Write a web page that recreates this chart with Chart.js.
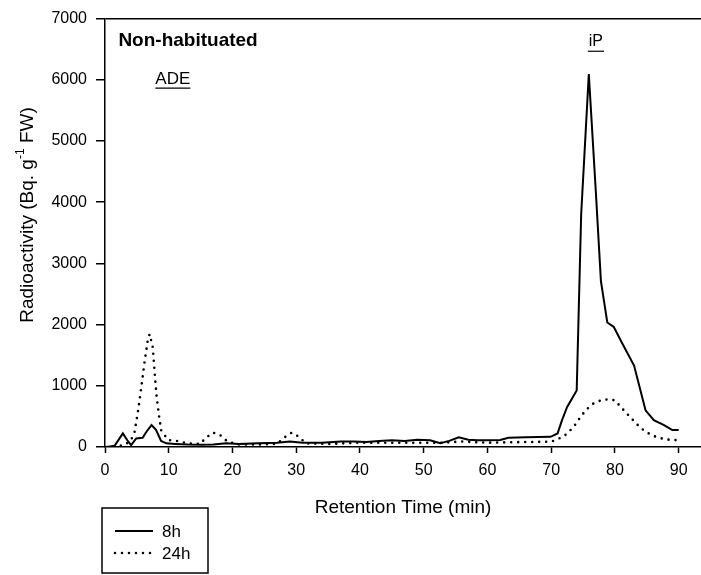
<!DOCTYPE html>
<html>
<head>
<meta charset="utf-8">
<script src="https://cdn.jsdelivr.net/npm/chart.js@4.4.1/dist/chart.umd.min.js"></script>
<style>
  html, body { margin: 0; padding: 0; background: #fff; }
</style>
</head>
<body>
<canvas id="chart" width="701" height="575"></canvas>
<script>
// data
let time8h = [0.3, 1.5, 2.8, 3.5, 4.1, 4.9, 5.9, 6.5, 7.3, 8.0, 8.8, 9.6, 11, 13, 15, 17, 19, 21, 24, 27, 29, 31, 34, 37, 39, 41, 43, 45, 47, 49, 51, 52.6, 54, 55.5, 57, 58.5, 60, 62, 63.3, 66, 69.9, 71, 71.7, 72.5, 74, 74.7, 75.9, 77, 77.8, 78.8, 79.8, 81.2, 83, 84.8, 86.1, 87.7, 89, 90];
let value8h = [0, 20, 222, 110, 30, 140, 150, 250, 357, 280, 100, 60, 50, 40, 35, 40, 60, 50, 60, 70, 90, 70, 70, 90, 90, 80, 100, 110, 100, 120, 110, 60, 100, 157, 120, 110, 110, 113, 150, 160, 167, 222, 438, 654, 925, 3800, 6093, 4172, 2711, 2034, 1964, 1683, 1331, 600, 438, 357, 276, 276];

let time24h = [0.3, 3.0, 4.0, 4.6, 5.2, 5.7, 6.2, 6.7, 7.0, 7.5, 7.8, 8.1, 8.5, 8.8, 9.9, 11.2, 13, 15, 15.6, 16.9, 18, 19.2, 21, 24, 27, 28.2, 29.3, 30.4, 31.5, 35, 40, 45, 50, 53, 56, 60, 65, 70, 71.9, 72.8, 73.7, 74.6, 75.5, 76.6, 77.8, 78.9, 80, 81, 82.1, 83.1, 84.1, 85.3, 86.4, 87.7, 88.9, 90];
let value24h = [0, 30, 100, 222, 600, 979, 1385, 1737, 1845, 1628, 1196, 817, 492, 276, 113, 100, 60, 50, 130, 235, 200, 90, 40, 40, 50, 160, 235, 170, 60, 50, 70, 70, 70, 70, 90, 70, 80, 87, 167, 249, 357, 492, 611, 709, 763, 780, 763, 644, 520, 411, 303, 222, 167, 130, 113, 113];

let xTicks = [0, 10, 20, 30, 40, 50, 60, 70, 80, 90];
let yTicks = [0, 1000, 2000, 3000, 4000, 5000, 6000, 7000];
let seriesNames = ["8h", "24h"];

function toPoints(xs, ys) {
    let pts = [];
    for (let i = 0; i < xs.length; i++) {
        pts.push({x: xs[i], y: ys[i]});
    }
    return pts;
}

const FONT = "'Liberation Sans', Arial, sans-serif";

// texts on the plot, the y title (with superscript) and the boxed legend
let extras = {
    id: "extras",
    afterDraw(chart) {
        let ctx = chart.ctx;
        let xs = chart.scales.x, ys = chart.scales.y;
        ctx.save();
        ctx.fillStyle = "#000";
        ctx.strokeStyle = "#000";
        ctx.textBaseline = "middle";

        ctx.font = "bold 19px " + FONT;
        ctx.textAlign = "left";
        ctx.fillText("Non-habituated", xs.getPixelForValue(2.1), ys.getPixelForValue(6640));

        ctx.font = "17px " + FONT;
        let ax = xs.getPixelForValue(7.9), ay = ys.getPixelForValue(6010);
        ctx.fillText("ADE", ax, ay);
        let w = ctx.measureText("ADE").width;
        ctx.lineWidth = 1.2;
        ctx.beginPath(); ctx.moveTo(ax, ay + 9); ctx.lineTo(ax + w, ay + 9); ctx.stroke();

        ctx.font = "16px " + FONT;
        let ix = xs.getPixelForValue(75.9), iy = ys.getPixelForValue(6630);
        ctx.fillText("iP", ix, iy);
        w = ctx.measureText("iP").width;
        ctx.beginPath(); ctx.moveTo(ix - 1, iy + 10); ctx.lineTo(ix + w + 1, iy + 10); ctx.stroke();

        // y title, rotated
        ctx.save();
        ctx.translate(28, 215);
        ctx.rotate(-Math.PI / 2);
        let p1 = "Radioactivity (Bq. g", sup = "-1", p2 = " FW)";
        ctx.font = "19px " + FONT;
        let w1 = ctx.measureText(p1).width, w3 = ctx.measureText(p2).width;
        ctx.font = "12px " + FONT;
        let w2 = ctx.measureText(sup).width;
        let x0 = -(w1 + w2 + w3) / 2;
        ctx.textAlign = "left";
        ctx.font = "19px " + FONT;
        ctx.fillText(p1, x0, 0);
        ctx.font = "12px " + FONT;
        ctx.fillText(sup, x0 + w1, -7);
        ctx.font = "19px " + FONT;
        ctx.fillText(p2, x0 + w1 + w2, 0);
        ctx.restore();

        // legend box
        ctx.lineWidth = 1.5;
        ctx.strokeRect(102, 508, 106, 65);
        ctx.font = "17px " + FONT;
        let rows = [531, 553];
        chart.data.datasets.forEach(function (ds, i) {
            ctx.save();
            ctx.lineWidth = ds.borderWidth;
            ctx.lineCap = ds.borderCapStyle || "butt";
            ctx.setLineDash(ds.borderDash || []);
            ctx.beginPath();
            ctx.moveTo(115, rows[i]);
            ctx.lineTo(153, rows[i]);
            ctx.stroke();
            ctx.restore();
            ctx.fillText(ds.label, 162, rows[i] + 1);
        });
        ctx.restore();
    }
};

let ctx = document.getElementById("chart").getContext("2d");
let chart = new Chart(ctx, {
    type: "line",
    data: {
        datasets: [{
            label: seriesNames[0],
            data: toPoints(time8h, value8h),
            borderColor: "#000",
            borderWidth: 2,
            pointRadius: 0,
            tension: 0
        }, {
            label: seriesNames[1],
            data: toPoints(time24h, value24h),
            borderColor: "#000",
            borderWidth: 2.6,
            borderDash: [0, 7],
            borderCapStyle: "round",
            pointRadius: 0,
            tension: 0
        }]
    },
    options: {
        responsive: false,
        animation: false,
        layout: {padding: {top: 15, right: 0, bottom: 48, left: 0}},
        plugins: {legend: {display: false}, tooltip: {enabled: false}},
        scales: {
            x: {
                type: "linear",
                min: 0,
                max: 93.5,
                afterFit(scale) { scale.height = 80; },
                afterBuildTicks(scale) { scale.ticks = xTicks.map(v => ({value: v})); },
                ticks: {color: "#000", font: {family: FONT, size: 16}, padding: 8,
                        callback: v => String(v)},
                grid: {drawOnChartArea: false, tickLength: 6, tickColor: "#000", tickWidth: 1.5},
                border: {color: "#000", width: 1.5},
                title: {display: true, text: "Retention Time (min)", color: "#000",
                        font: {family: FONT, size: 19}, padding: {top: 0, bottom: 7.6}}
            },
            y: {
                min: 0,
                max: 7000,
                afterFit(scale) { scale.width = 105; },
                afterBuildTicks(scale) { scale.ticks = yTicks.map(v => ({value: v})); },
                ticks: {color: "#000", font: {family: FONT, size: 16}, padding: 9,
                        callback: v => String(v)},
                grid: {
                    drawOnChartArea: true,
                    tickLength: 9,
                    tickColor: "#000",
                    tickWidth: 1.5,
                    lineWidth: 1.5,
                    color: c => (c.tick && c.tick.value === 7000 ? "#000" : "rgba(0,0,0,0)")
                },
                border: {color: "#000", width: 1.5}
            }
        }
    },
    plugins: [extras]
});
</script>
</body>
</html>
